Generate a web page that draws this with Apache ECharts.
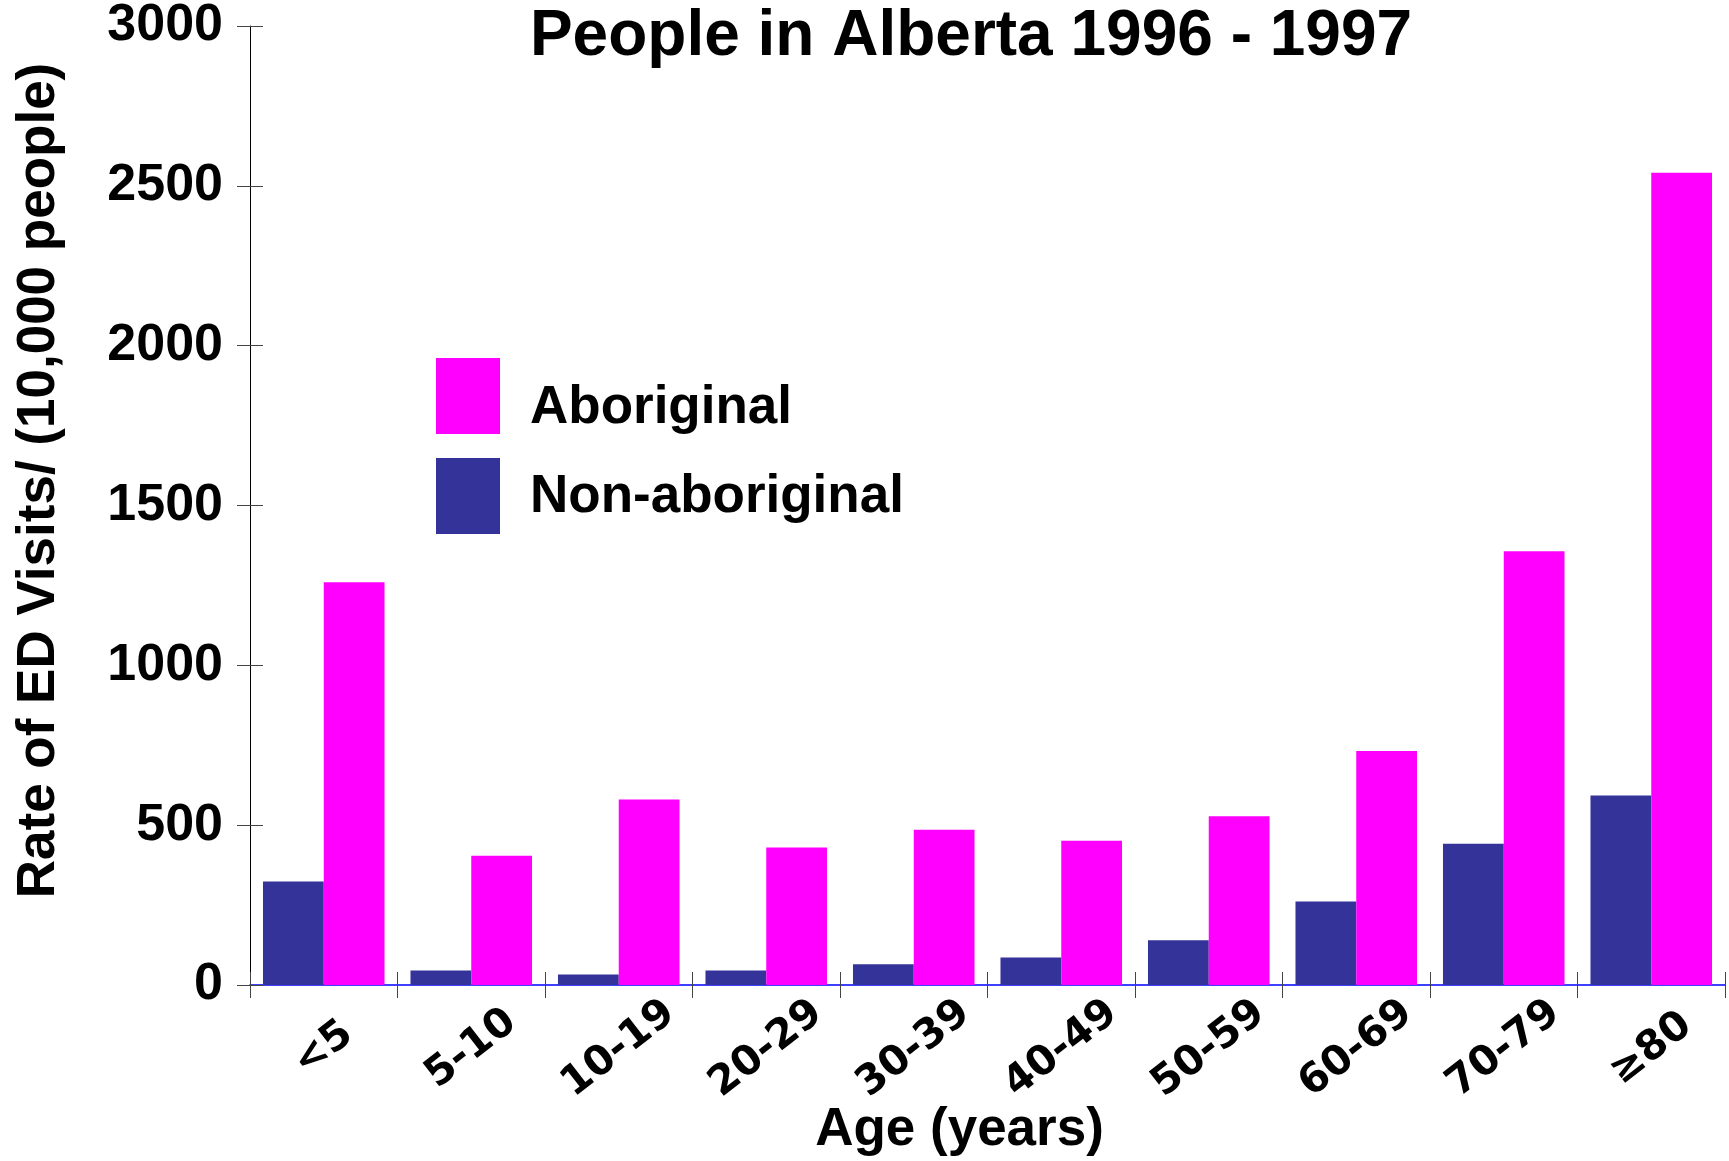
<!DOCTYPE html>
<html>
<head>
<meta charset="utf-8">
<script src="https://cdn.jsdelivr.net/npm/echarts@6/dist/echarts.min.js"></script>
<style>
  html, body { margin: 0; padding: 0; background: #fff; }
  #chart { width: 1729px; height: 1161px; }
</style>
</head>
<body>
<div id="chart"></div>
<script>
// age groups along the bottom
const ageGroups = ['<5', '5-10', '10-19', '20-29', '30-39', '40-49', '50-59', '60-69', '70-79', '≥80']
// ED visit rates per 10,000 people
const nonAboriginal = [324, 45, 33, 45, 65, 86, 140, 261, 442, 593]
const aboriginal = [1260, 404, 580, 430, 486, 451, 528, 732, 1357, 2541]
const yTicks = [0, 500, 1000, 1500, 2000, 2500, 3000]

let chart = echarts.init(document.getElementById('chart'), null, { renderer: 'canvas' })

let fuente = 'Liberation Sans, Arial, sans-serif'

function leyenda(nombre, arriba, bajar) {
    return {
        data: [nombre],
        orient: 'vertical',
        left: 436,
        top: arriba,
        padding: 0,
        itemWidth: 64,
        itemHeight: 76,
        icon: 'rect',
        formatter: '{t|{name}}',
        textStyle: {
            rich: {
                t: { fontFamily: fuente, fontWeight: 'bold', fontSize: 53, color: '#000', padding: [bajar, 0, 0, 25] }
            }
        }
    }
}

let option = {
    backgroundColor: '#fff',
    animation: false,
    title: {
        text: 'People in Alberta 1996 - 1997',
        left: 971,
        top: 5,
        padding: 0,
        textAlign: 'center',
        textStyle: { fontFamily: fuente, fontWeight: 'bold', fontSize: 64, color: '#000' }
    },
    legend: [
        leyenda('Aboriginal', 358, 25),
        leyenda('Non-aboriginal', 458, 3)
    ],
    grid: { left: 250, right: 4, top: 26, bottom: 176, outerBoundsMode: 'none', containLabel: false },
    xAxis: [
        {
            type: 'category',
            data: ageGroups,
            name: 'Age (years)',
            nameLocation: 'middle',
            nameGap: 119,
            nameMoveOverlap: false,
            nameTextStyle: { fontFamily: fuente, fontWeight: 'bold', fontSize: 53, color: '#000', padding: [0, 56, 0, 0] },
            axisLine: { show: true, lineStyle: { color: '#0000ff', width: 1.5 } },
            axisTick: { show: true, length: 13, lineStyle: { color: '#444' } },
            axisLabel: {
                rotate: 38,
                align: 'center',
                verticalAlign: 'middle',
                margin: 64,
                fontFamily: 'DejaVu Sans',
                fontWeight: 'bold',
                fontSize: 41,
                color: '#000'
            },
            splitLine: { show: false }
        },
        {
            // second axis only to draw the upper half of the ticks
            type: 'category',
            data: ageGroups,
            position: 'bottom',
            axisLine: { show: false },
            axisTick: { show: true, inside: true, length: 13, lineStyle: { color: '#444' } },
            axisLabel: { show: false },
            splitLine: { show: false }
        }
    ],
    yAxis: [
        {
            type: 'value',
            min: 0,
            max: 3000,
            interval: 500,
            name: 'Rate of ED Visits/ (10,000 people)',
            nameLocation: 'middle',
            nameRotate: 90,
            nameGap: 184,
            nameMoveOverlap: false,
            nameTextStyle: { fontFamily: fuente, fontWeight: 'bold', fontSize: 53, color: '#000', padding: [0, 0, 0, 50] },
            axisLine: { show: true, lineStyle: { color: '#000', width: 1 } },
            axisTick: { show: true, length: 13, lineStyle: { color: '#444' } },
            axisLabel: {
                margin: 27,
                fontFamily: fuente,
                fontWeight: 'bold',
                fontSize: 52,
                color: '#000',
                formatter: function (v) { return yTicks.includes(v) ? String(v) : '' }
            },
            splitLine: { show: false }
        },
        {
            type: 'value',
            min: 0,
            max: 3000,
            interval: 500,
            position: 'left',
            axisLine: { show: false },
            axisTick: { show: true, inside: true, length: 13, lineStyle: { color: '#444' } },
            axisLabel: { show: false },
            splitLine: { show: false }
        }
    ],
    series: [
        {
            name: 'Non-aboriginal',
            type: 'bar',
            data: nonAboriginal,
            barGap: '0%',
            barCategoryGap: '17.6%',
            itemStyle: { color: '#333399' }
        },
        {
            name: 'Aboriginal',
            type: 'bar',
            data: aboriginal,
            barGap: '0%',
            barCategoryGap: '17.6%',
            itemStyle: { color: '#ff00ff' }
        }
    ]
}

chart.setOption(option)
window.addEventListener('resize', chart.resize)
</script>
</body>
</html>
